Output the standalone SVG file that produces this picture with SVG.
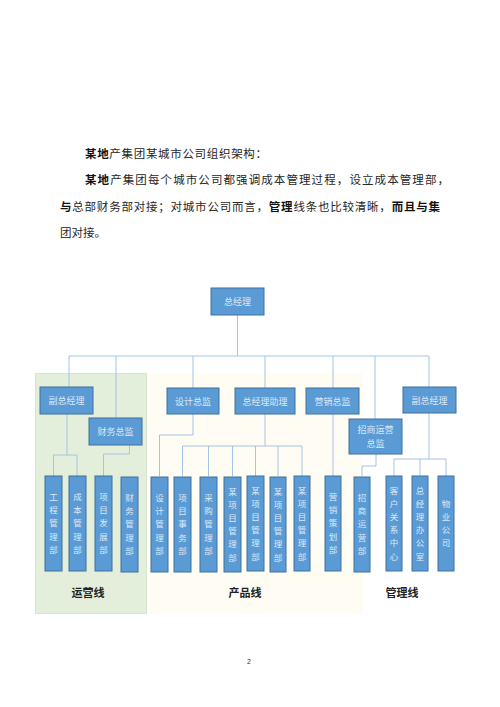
<svg xmlns="http://www.w3.org/2000/svg" width="500" height="707" viewBox="0 0 500 707">
<style>
.body{font-family:"Liberation Sans","Noto Sans CJK SC",sans-serif;font-size:11.5px;fill:#262626}
.b{font-weight:bold;fill:#111}
.box{fill:#5B9BD5;stroke:#41719C;stroke-width:1}
.bt{font-family:"Noto Sans CJK SC",sans-serif;font-size:9px;fill:#dce8f5;text-anchor:middle}
.vt{font-family:"Noto Sans CJK SC",sans-serif;font-size:8.5px;fill:#dce8f5;text-anchor:middle}
.lab{font-family:"Noto Sans CJK SC",sans-serif;font-size:11px;font-weight:bold;fill:#222;text-anchor:middle}
.ln{fill:none;stroke:#A3C4E4;stroke-width:1}
</style>
<rect width="500" height="707" fill="#fff"/>
<text class="body" x="85" y="158" textLength="182" lengthAdjust="spacing"><tspan class="b">某地</tspan>产集团某城市公司组织架构：</text>
<text class="body" x="85" y="184" textLength="364" lengthAdjust="spacing"><tspan class="b">某地</tspan>产集团每个城市公司都强调成本管理过程，设立成本管理部，</text>
<text class="body" x="60" y="211" textLength="380" lengthAdjust="spacing"><tspan class="b">与</tspan>总部财务部对接；对城市公司而言，<tspan class="b">管理</tspan>线条也比较清晰，<tspan class="b">而且与集</tspan></text>
<text class="body" x="60" y="237">团对接。</text>

<g id="backgrounds">
<rect x="35.5" y="373.5" width="111" height="240" fill="#E3EFDA" stroke="#D6E7C9"/>
<rect x="150" y="373" width="213" height="241" fill="#FFFCF3"/>
</g>

<g id="connectors">
<path class="ln" d="M237.5 315V356M69 356H429M69 356V387M116 356V418M193 356V388M265 356V388M333 356V388M375 356V419M429 356V387"/>
<path class="ln" d="M67 414V455M53.5 455H77M53.5 455V476M77 455V476"/>
<path class="ln" d="M129.5 445V454M103.5 454H129.5M103.5 454V476"/>
<path class="ln" d="M193 414V435H159.5V476"/>
<path class="ln" d="M265 414V446M182.5 446H302M182.5 446V476M208.5 446V476M232.5 446V476M255.5 446V476M278 446V476M302 446V476"/>
<path class="ln" d="M333 414V476"/>
<path class="ln" d="M376 454V466H362V476"/>
<path class="ln" d="M429 413V459M394 459H446M394 459V476M420 459V476M446 459V476"/>
</g>

<g id="n-zjl"><rect class="box" x="211" y="288" width="53" height="27"/><text class="bt" x="237.5" y="305">总经理</text></g>
<g id="n-fzjl1"><rect class="box" x="40" y="387" width="53" height="27"/><text class="bt" x="66.5" y="404">副总经理</text></g>
<g id="n-cwzj"><rect class="box" x="89" y="418" width="53" height="27"/><text class="bt" x="115.5" y="435">财务总监</text></g>
<g id="n-sjzj"><rect class="box" x="167" y="388" width="52" height="26"/><text class="bt" x="193" y="404.5">设计总监</text></g>
<g id="n-zjlzl"><rect class="box" x="235" y="388" width="60" height="26"/><text class="bt" x="265" y="404.5">总经理助理</text></g>
<g id="n-yxzj"><rect class="box" x="306" y="388" width="53" height="26"/><text class="bt" x="332.5" y="404.5">营销总监</text></g>
<g id="n-zsyyzj"><rect class="box" x="349" y="419" width="53" height="35"/><text class="bt" x="375.5" y="433">招商运营</text><text class="bt" x="375.5" y="447">总监</text></g>
<g id="n-fzjl2"><rect class="box" x="403" y="387" width="53" height="26"/><text class="bt" x="429.5" y="403.5">副总经理</text></g>

<g id="n-gcglb"><rect class="box" x="45" y="476" width="17" height="95"/><text class="vt"><tspan x="53.5" y="500">工</tspan><tspan x="53.5" dy="13.2">程</tspan><tspan x="53.5" dy="13.2">管</tspan><tspan x="53.5" dy="13.2">理</tspan><tspan x="53.5" dy="13.2">部</tspan></text></g>
<g id="n-cbglb"><rect class="box" x="69" y="476" width="17" height="95"/><text class="vt"><tspan x="77.5" y="500">成</tspan><tspan x="77.5" dy="13.2">本</tspan><tspan x="77.5" dy="13.2">管</tspan><tspan x="77.5" dy="13.2">理</tspan><tspan x="77.5" dy="13.2">部</tspan></text></g>
<g id="n-xmfzb"><rect class="box" x="95" y="476" width="17" height="95"/><text class="vt"><tspan x="103.5" y="500">项</tspan><tspan x="103.5" dy="13.2">目</tspan><tspan x="103.5" dy="13.2">发</tspan><tspan x="103.5" dy="13.2">展</tspan><tspan x="103.5" dy="13.2">部</tspan></text></g>
<g id="n-cwglb"><rect class="box" x="121" y="477" width="17" height="95"/><text class="vt"><tspan x="129.5" y="501">财</tspan><tspan x="129.5" dy="13.2">务</tspan><tspan x="129.5" dy="13.2">管</tspan><tspan x="129.5" dy="13.2">理</tspan><tspan x="129.5" dy="13.2">部</tspan></text></g>
<g id="n-sjglb"><rect class="box" x="151" y="477" width="17" height="95"/><text class="vt"><tspan x="159.5" y="501">设</tspan><tspan x="159.5" dy="13.2">计</tspan><tspan x="159.5" dy="13.2">管</tspan><tspan x="159.5" dy="13.2">理</tspan><tspan x="159.5" dy="13.2">部</tspan></text></g>
<g id="n-xmswb"><rect class="box" x="174" y="477" width="17" height="95"/><text class="vt"><tspan x="182.5" y="501">项</tspan><tspan x="182.5" dy="13.2">目</tspan><tspan x="182.5" dy="13.2">事</tspan><tspan x="182.5" dy="13.2">务</tspan><tspan x="182.5" dy="13.2">部</tspan></text></g>
<g id="n-cgglb"><rect class="box" x="200" y="477" width="17" height="95"/><text class="vt"><tspan x="208.5" y="501">采</tspan><tspan x="208.5" dy="13.2">购</tspan><tspan x="208.5" dy="13.2">管</tspan><tspan x="208.5" dy="13.2">理</tspan><tspan x="208.5" dy="13.2">部</tspan></text></g>
<g id="n-xm1"><rect class="box" x="224" y="477" width="17" height="95"/><text class="vt"><tspan x="232.5" y="494.5">某</tspan><tspan x="232.5" dy="13.2">项</tspan><tspan x="232.5" dy="13.2">目</tspan><tspan x="232.5" dy="13.2">管</tspan><tspan x="232.5" dy="13.2">理</tspan><tspan x="232.5" dy="13.2">部</tspan></text></g>
<g id="n-xm2"><rect class="box" x="247" y="476" width="17" height="95"/><text class="vt"><tspan x="255.5" y="493.5">某</tspan><tspan x="255.5" dy="13.2">项</tspan><tspan x="255.5" dy="13.2">目</tspan><tspan x="255.5" dy="13.2">管</tspan><tspan x="255.5" dy="13.2">理</tspan><tspan x="255.5" dy="13.2">部</tspan></text></g>
<g id="n-xm3"><rect class="box" x="270" y="477" width="16" height="95"/><text class="vt"><tspan x="278" y="494.5">某</tspan><tspan x="278" dy="13.2">项</tspan><tspan x="278" dy="13.2">目</tspan><tspan x="278" dy="13.2">管</tspan><tspan x="278" dy="13.2">理</tspan><tspan x="278" dy="13.2">部</tspan></text></g>
<g id="n-xm4"><rect class="box" x="294" y="476" width="16" height="95"/><text class="vt"><tspan x="302" y="493.5">某</tspan><tspan x="302" dy="13.2">项</tspan><tspan x="302" dy="13.2">目</tspan><tspan x="302" dy="13.2">管</tspan><tspan x="302" dy="13.2">理</tspan><tspan x="302" dy="13.2">部</tspan></text></g>
<g id="n-yxchb"><rect class="box" x="325" y="476" width="16" height="95"/><text class="vt"><tspan x="333" y="500">营</tspan><tspan x="333" dy="13.2">销</tspan><tspan x="333" dy="13.2">策</tspan><tspan x="333" dy="13.2">划</tspan><tspan x="333" dy="13.2">部</tspan></text></g>
<g id="n-zsyyb"><rect class="box" x="354" y="477" width="16" height="95"/><text class="vt"><tspan x="362" y="501">招</tspan><tspan x="362" dy="13.2">商</tspan><tspan x="362" dy="13.2">运</tspan><tspan x="362" dy="13.2">营</tspan><tspan x="362" dy="13.2">部</tspan></text></g>
<g id="n-khgx"><rect class="box" x="386" y="476" width="16" height="95"/><text class="vt"><tspan x="394" y="493.5">客</tspan><tspan x="394" dy="13.2">户</tspan><tspan x="394" dy="13.2">关</tspan><tspan x="394" dy="13.2">系</tspan><tspan x="394" dy="13.2">中</tspan><tspan x="394" dy="13.2">心</tspan></text></g>
<g id="n-zjlbgs"><rect class="box" x="412" y="476" width="16" height="95"/><text class="vt"><tspan x="420" y="493.5">总</tspan><tspan x="420" dy="13.2">经</tspan><tspan x="420" dy="13.2">理</tspan><tspan x="420" dy="13.2">办</tspan><tspan x="420" dy="13.2">公</tspan><tspan x="420" dy="13.2">室</tspan></text></g>
<g id="n-wygs"><rect class="box" x="438" y="476" width="16" height="95"/><text class="vt"><tspan x="446" y="506.5">物</tspan><tspan x="446" dy="13.2">业</tspan><tspan x="446" dy="13.2">公</tspan><tspan x="446" dy="13.2">司</tspan></text></g>

<g id="labels">
<text class="lab" x="88" y="597">运营线</text>
<text class="lab" x="245" y="597">产品线</text>
<text class="lab" x="402" y="597">管理线</text>
</g>
<text x="249" y="664" font-family="Liberation Sans, sans-serif" font-size="7" fill="#333" text-anchor="middle">2</text>
</svg>
